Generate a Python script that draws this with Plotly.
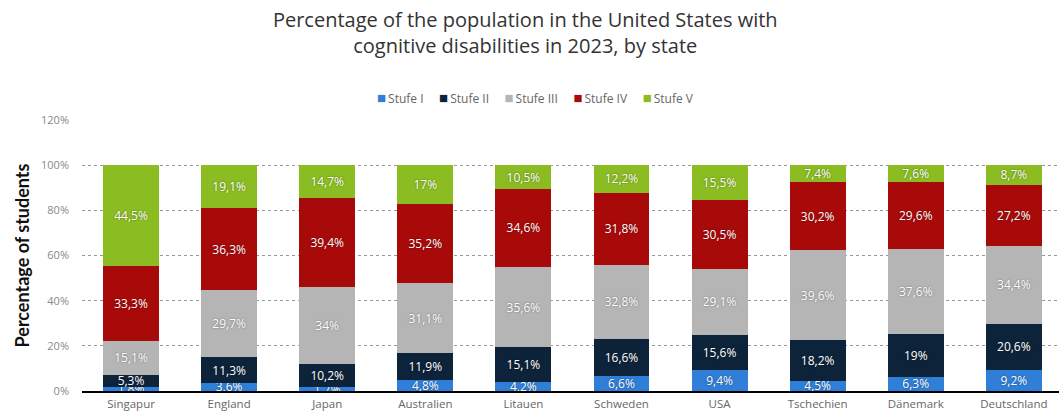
import plotly.graph_objects as go

# Countries on the x axis
countries = ["Singapur", "England", "Japan", "Australien", "Litauen",
             "Schweden", "USA", "Tschechien", "Dänemark", "Deutschland"]

# Share of students per proficiency level (percent)
stufe_1 = [1.8, 3.6, 1.7, 4.8, 4.2, 6.6, 9.4, 4.5, 6.3, 9.2]
stufe_2 = [5.3, 11.3, 10.2, 11.9, 15.1, 16.6, 15.6, 18.2, 19, 20.6]
stufe_3 = [15.1, 29.7, 34, 31.1, 35.6, 32.8, 29.1, 39.6, 37.6, 34.4]
stufe_4 = [33.3, 36.3, 39.4, 35.2, 34.6, 31.8, 30.5, 30.2, 29.6, 27.2]
stufe_5 = [44.5, 19.1, 14.7, 17, 10.5, 12.2, 15.5, 7.4, 7.6, 8.7]

series_names = ["Stufe I", "Stufe II", "Stufe III", "Stufe IV", "Stufe V"]
series_values = [stufe_1, stufe_2, stufe_3, stufe_4, stufe_5]
series_colors = ["#2f7ed8", "#0d233a", "#b5b5b5", "#a80a0a", "#8bbc21"]

y_ticks = [0, 20, 40, 60, 80, 100, 120]

W, H = 1059, 412
M_L, M_R, M_T, M_B = 82, 0, 120, 21


def de_label(v):
    return f"{v:g}".replace(".", ",") + "%"


fig = go.Figure()
for name, vals, color in zip(series_names, series_values, series_colors):
    fig.add_trace(go.Bar(
        name=name,
        x=countries,
        y=vals,
        marker=dict(color=color, line=dict(width=0)),
        text=[de_label(v) for v in vals],
        textposition="inside",
        insidetextanchor="middle",
        textangle=0,
        textfont=dict(family="Open Sans", size=12, color="#ffffff",
                      shadow="0px 0px 2px rgba(0,0,0,0.45)"),
        hoverinfo="skip",
        showlegend=False,
    ))

# Compact legend row: coloured square followed by the series name
gap = "&nbsp;" * 5
legend_text = gap.join(
    f"<span style='color:{c};font-size:15px'>■</span>\u2009{n}"
    for n, c in zip(series_names, series_colors)
)
plot_w = W - M_L - M_R
plot_h = H - M_T - M_B

fig.update_layout(
    width=W,
    height=H,
    barmode="stack",
    bargap=0.43,
    separators=",.",
    paper_bgcolor="white",
    plot_bgcolor="white",
    margin=dict(l=M_L, r=M_R, t=M_T, b=M_B, autoexpand=False),
    uniformtext=dict(minsize=12, mode="show"),
    title=dict(
        text="Percentage of the population in the United States with<br>cognitive disabilities in 2023, by state",
        x=0.496, xref="container", xanchor="center",
        y=1 - 27 / H, yref="container", yanchor="middle",
        font=dict(family="Open Sans", size=20, color="#333333"),
    ),
    annotations=[dict(
        text=legend_text,
        x=(535 - M_L) / plot_w, xref="paper", xanchor="center",
        y=(H - M_B - 97) / plot_h, yref="paper", yanchor="middle",
        showarrow=False,
        font=dict(family="Open Sans", size=12, color="#666666"),
    )],
    showlegend=False,
)

fig.update_xaxes(
    range=[-0.5, 9.46],
    showgrid=False,
    showline=True,
    linecolor="#000000",
    linewidth=2,
    ticks="",
    ticklabelstandoff=1,
    tickfont=dict(family="Open Sans", size=11.5, color="#666666"),
    zeroline=False,
    automargin=False,
)

fig.update_yaxes(
    range=[0, 120],
    tickvals=y_ticks,
    ticktext=[f"{t}%" for t in y_ticks],
    showgrid=True,
    gridcolor="#999999",
    griddash="dot",
    gridwidth=1,
    zeroline=False,
    showline=False,
    ticks="",
    ticklabelstandoff=12,
    tickfont=dict(family="Open Sans", size=11, color="#888888"),
    title=dict(text="<b>Percentage of students</b>", standoff=6,
               font=dict(family="Lato", size=18, color="#111111")),
    automargin=False,
)

fig.write_html("out.html")
